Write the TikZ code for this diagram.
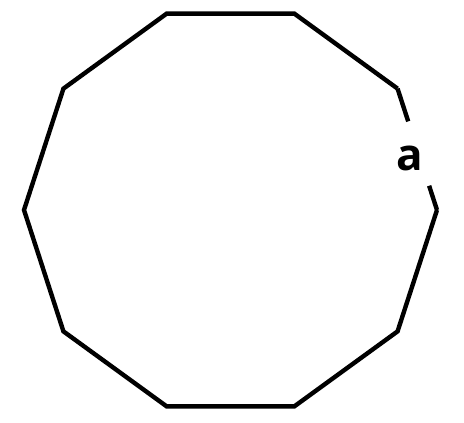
\documentclass[tikz,border=0pt]{standalone}
\usepackage{fontspec}
\setmainfont{Open Sans}
\usetikzlibrary{positioning}

\begin{document}
\begin{tikzpicture}[
   x=1pt,y=-1pt,
   edge/.style={draw,line width=4.4pt},
   lbl/.style={font=\fontsize{44}{44}\selectfont\bfseries,inner sep=0pt}]
  \useasboundingbox (0,0) rectangle (464,423);
  % corners of the decagon
  \foreach \k in {0,...,9}
    \coordinate (v\k) at ({230.5+206.5*cos(36*\k)},{210-206.5*sin(36*\k)});
  \draw[edge] (v1)--(v2)--(v3)--(v4)--(v5)--(v6)--(v7)--(v8)--(v9)--(v0);
  % the side with the label
  \path (v1)--coordinate[pos=0.27] (g1) coordinate[pos=0.8] (g2) (v0);
  \draw[edge] (v1)--(g1);
  \draw[edge] (g2)--(v0);
  \node[lbl] (a) at (410,158) {a};
\end{tikzpicture}
\end{document}
